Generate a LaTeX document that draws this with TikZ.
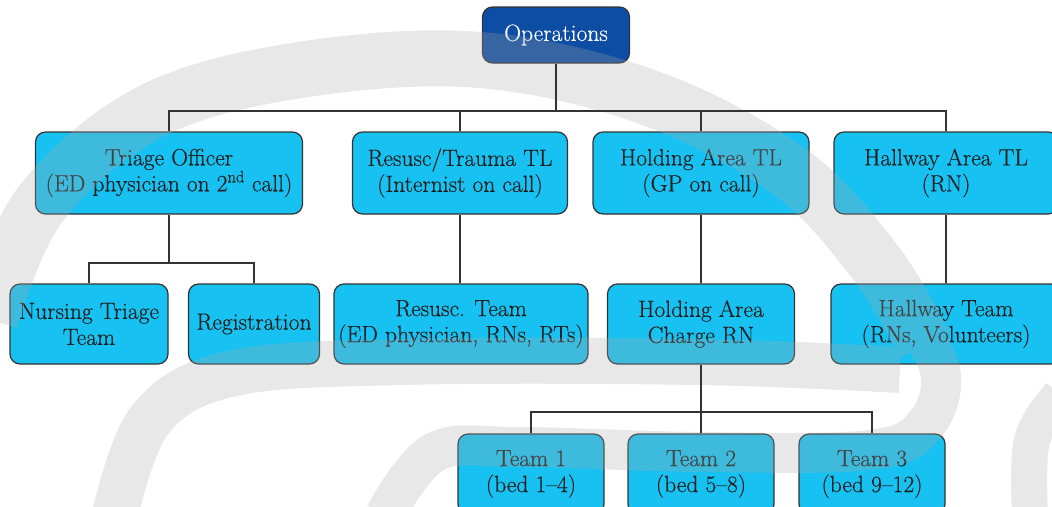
\documentclass[tikz,border=0pt]{standalone}
\usepackage{fontspec}
\setmainfont{Latin Modern Roman}[FakeBold=0.35]
\definecolor{boxcyan}{HTML}{17C1F1}
\definecolor{opsblue}{HTML}{0D4DA3}
\definecolor{edgegray}{HTML}{333333}
\definecolor{ink}{HTML}{202020}
\definecolor{swirl}{HTML}{A9A9A9}
\begin{document}
\begin{tikzpicture}[x=1pt,y=-1pt,
  orgbox/.style={draw=edgegray, line width=1.2pt, rounded corners=10pt,
    fill=boxcyan, text=ink, align=center, inner sep=0pt,
    minimum height=80pt, font=\fontsize{23.5}{26}\selectfont},
  topbox/.style={orgbox, fill=opsblue, text=white},
  link/.style={draw=edgegray, line width=1.3pt},
  swirlband/.style={draw=swirl, line width=#1, line cap=butt}]
\useasboundingbox (0,0) rectangle (1052,506);
\clip (0,0) rectangle (1052,506);

% bus levels of the tree
\coordinate (busA) at (0,111);
\coordinate (busB) at (0,263);
\coordinate (busC) at (0,412);

% top
\node[topbox, minimum width=147pt, minimum height=56pt] (ops) at (556,35) {Operations};

% second row
\node[orgbox, minimum width=267pt, minimum height=82pt] (tri) at (169,173)
  {Triage Officer\\(ED physician on 2\textsuperscript{nd} call)};
\node[orgbox, minimum width=215pt, minimum height=82pt] (res) at (460,173)
  {Resusc/Trauma TL\\(Internist on call)};
\node[orgbox, minimum width=216pt, minimum height=82pt] (hol) at (701,173)
  {Holding Area TL\\(GP on call)};
\node[orgbox, minimum width=224pt, minimum height=82pt] (hal) at (946,173)
  {Hallway Area TL\\(RN)};

% third row
\node[orgbox, minimum width=158pt] (nur) at (89,324) {Nursing Triage\\Team};
\node[orgbox, minimum width=131pt] (reg) at (254,324) {Registration};
\node[orgbox, minimum width=254pt] (rte) at (461,324)
  {Resusc. Team\\(ED physician, RNs, RTs)};
\node[orgbox, minimum width=187pt] (hcr) at (701,324) {Holding Area\\Charge RN};
\node[orgbox, minimum width=230pt] (hwt) at (946,324)
  {Hallway Team\\(RNs, Volunteers)};

% fourth row
\node[orgbox, minimum width=146pt] (t1) at (531,474) {Team 1\\(bed 1--4)};
\node[orgbox, minimum width=146pt] (t2) at (701,474) {Team 2\\(bed 5--8)};
\node[orgbox, minimum width=146pt] (t3) at (872,474) {Team 3\\(bed 9--12)};

% light swirl mark laid over the boxes
\begin{scope}[transparency group, opacity=0.27]
  \draw[swirlband=56pt] plot[smooth, tension=0.6] coordinates
    {(-10,320) (40,205) (150,112) (300,70) (480,60) (650,98) (790,172)
     (875,262) (925,345)};
  \draw[swirlband=40pt] plot[smooth, tension=0.6] coordinates
    {(900,300) (940,370) (925,425) (870,450) (700,452) (520,447) (435,452) (385,515)};
  \draw[swirlband=46pt] plot[smooth, tension=0.6] coordinates
    {(115,515) (150,420) (230,374) (400,362) (700,362) (900,370)};
  \draw[swirlband=36pt] plot[smooth, tension=0.6] coordinates
    {(1030,515) (1032,440) (1060,395)};
\end{scope}

% connectors
\foreach \c in {tri,res,hol,hal}
  \draw[link] (ops.south) -- (ops.south |- busA) -| (\c.north);
\foreach \c in {nur,reg}
  \draw[link] (tri.south) -- (tri.south |- busB) -| (\c.north);
\draw[link] (res.south) -- (res.south |- rte.north);
\draw[link] (hol.south) -- (hol.south |- hcr.north);
\draw[link] (hal.south) -- (hal.south |- hwt.north);
\foreach \c in {t1,t2,t3}
  \draw[link] (hcr.south) -- (hcr.south |- busC) -| (\c.north);
\end{tikzpicture}
\end{document}
